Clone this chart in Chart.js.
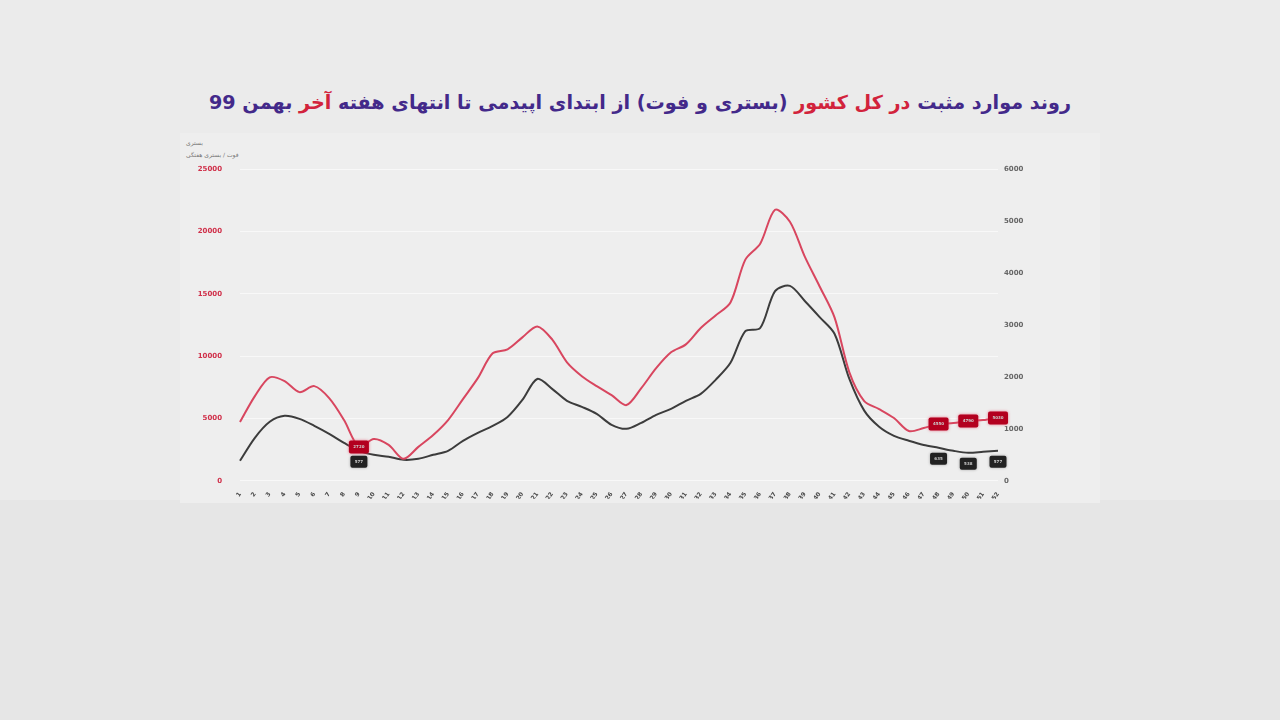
<!DOCTYPE html>
<html>
<head>
<meta charset="utf-8">
<script src="https://cdn.jsdelivr.net/npm/chart.js@4.4.1/dist/chart.umd.min.js"></script>
<style>
  body { margin: 0; width: 1280px; height: 720px; background: #e6e6e6; overflow: hidden; font-family: 'DejaVu Sans', sans-serif; }
  #top { position: absolute; left: 0; top: 0; width: 1280px; height: 500px; background: #ebebeb; }
  #title { position: absolute; left: 0; top: 91px; width: 1280px; text-align: center; direction: rtl;
           font-weight: bold; font-size: 19.2px; color: #43298a; white-space: nowrap; }
  #title .r { color: #d2233c; }
  #panel { position: absolute; left: 180px; top: 133px; width: 920px; height: 370px; background: #eeeeee; }
  #note { position: absolute; left: 186px; top: 137px; font-size: 6px; color: #777; line-height: 12px; }
  #wrap { position: absolute; left: 180px; top: 133px; width: 920px; height: 370px; }
</style>
</head>
<body>
<div id="top"></div>
<div id="title">روند موارد مثبت <span class="r">در کل کشور</span> (بستری و فوت) از ابتدای اپیدمی تا انتهای هفته <span class="r">آخر</span> بهمن 99</div>
<div id="panel"></div>
<div id="note">بستری<br>فوت / بستری هفتگی</div>
<div id="wrap"><canvas id="trend" width="920" height="370"></canvas></div>
<script>
// weekly data, from the start of the epidemic to the end of Bahman 99
const weeks = ['1','2','3','4','5','6','7','8','9','10','11','12','13','14','15','16','17','18','19','20',
  '21','22','23','24','25','26','27','28','29','30','31','32','33','34','35','36','37','38','39','40',
  '41','42','43','44','45','46','47','48','49','50','51','52'];

// hospitalised (left axis)
const hospitalized = [4710, 6790, 8300, 7990, 7110, 7590, 6630, 4870, 2720, 3350,
  2880, 1760, 2720, 3670, 4870, 6550, 8230, 10220, 10540, 11500,
  12380, 11340, 9500, 8390, 7590, 6870, 6070, 7430, 9030, 10300,
  10940, 12250, 13260, 14300, 17730, 19010, 21730, 20770, 17970, 15580,
  13100, 8700, 6390, 5750, 5030, 3990, 4230, 4550, 4630, 4790,
  4870, 5030];

// deaths (right axis)
const deaths = [385, 827, 1135, 1250, 1192, 1058, 904, 730, 577, 500,
  462, 404, 423, 500, 577, 770, 923, 1058, 1230, 1558,
  1960, 1770, 1540, 1423, 1288, 1077, 1000, 1115, 1270, 1385,
  1540, 1673, 1942, 2270, 2880, 2940, 3650, 3750, 3460, 3150,
  2830, 1960, 1350, 1040, 865, 770, 690, 635, 577, 538,
  558, 577];

const leftTicks = [0, 5000, 10000, 15000, 20000, 25000];
const rightTicks = [0, 1000, 2000, 3000, 4000, 5000, 6000];
const boxedWeeks = [8, 47, 49, 51];

// small value boxes on a few weeks
const valueBoxes = {
  id: 'valueBoxes',
  afterDatasetsDraw(chart) {
    const ctx = chart.ctx;
    const styles = [
      { ds: 0, fill: '#b3001f', glow: 'rgba(230,80,110,0.8)', w: 20, h: 13, dy: 0 },
      { ds: 1, fill: '#222222', glow: 'rgba(0,0,0,0.3)', w: 17, h: 12, dy: 11 }
    ];
    styles.forEach(s => {
      const meta = chart.getDatasetMeta(s.ds);
      boxedWeeks.forEach(i => {
        const pt = meta.data[i];
        const x = pt.x, y = pt.y + s.dy;
        ctx.save();
        ctx.shadowColor = s.glow;
        ctx.shadowBlur = 3;
        ctx.fillStyle = s.fill;
        ctx.beginPath();
        ctx.roundRect(x - s.w / 2, y - s.h / 2, s.w, s.h, 2);
        ctx.fill();
        ctx.restore();
        ctx.save();
        ctx.fillStyle = '#cccccc';
        ctx.font = 'bold 4px DejaVu Sans';
        ctx.textAlign = 'center';
        ctx.textBaseline = 'middle';
        ctx.fillText(String(chart.data.datasets[s.ds].data[i]), x, y);
        ctx.restore();
      });
    });
  }
};

const ctx = document.getElementById('trend').getContext('2d');
new Chart(ctx, {
  type: 'line',
  data: {
    labels: weeks,
    datasets: [{
      label: 'بستری',
      data: hospitalized,
      yAxisID: 'y',
      borderColor: '#d8465f',
      borderWidth: 2,
      pointRadius: 0,
      tension: 0.3
    }, {
      label: 'فوت',
      data: deaths,
      yAxisID: 'y1',
      borderColor: '#3c3c3c',
      borderWidth: 2,
      pointRadius: 0,
      tension: 0.3
    }]
  },
  options: {
    responsive: false,
    animation: false,
    layout: { padding: { left: 16, right: 62, top: 36, bottom: 3 } },
    plugins: { legend: { display: false }, tooltip: { enabled: false } },
    scales: {
      x: {
        grid: { display: false },
        border: { display: false },
        afterFit: s => { s.height = 18; },
        ticks: {
          autoSkip: false,
          minRotation: 55,
          maxRotation: 55,
          padding: 2,
          color: '#4a4a4a',
          font: { size: 6, weight: 'bold', family: 'DejaVu Sans' }
        }
      },
      y: {
        position: 'left',
        min: 0,
        max: 25000,
        afterBuildTicks: s => { s.ticks = leftTicks.map(v => ({ value: v })); },
        afterFit: s => { s.width = 44; },
        grid: { color: 'rgba(255,255,255,0.6)', drawTicks: false },
        border: { display: false },
        ticks: {
          padding: 18,
          color: '#d0304a',
          callback: v => String(v),
          font: { size: 7, weight: 'bold', family: 'DejaVu Sans' }
        }
      },
      y1: {
        position: 'right',
        min: 0,
        max: 6000,
        afterBuildTicks: s => { s.ticks = rightTicks.map(v => ({ value: v })); },
        afterFit: s => { s.width = 40; },
        grid: { display: false, drawTicks: false },
        border: { display: false },
        ticks: {
          padding: 6,
          color: '#666',
          callback: v => String(v),
          font: { size: 7, weight: 'bold', family: 'DejaVu Sans' }
        }
      }
    }
  },
  plugins: [valueBoxes]
});
</script>
</body>
</html>
